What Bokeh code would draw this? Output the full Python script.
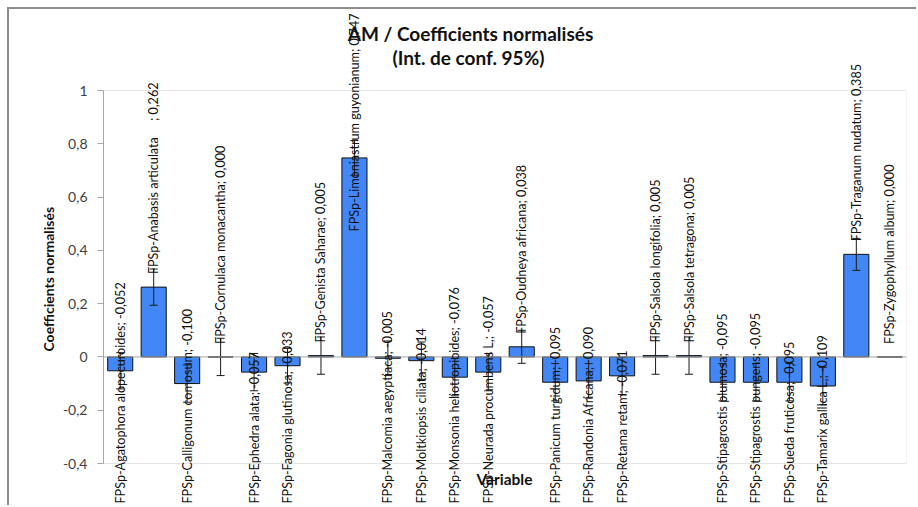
import math
from bokeh.plotting import figure
from bokeh.models import (Range1d, Label, Span, BoxAnnotation, FixedTicker,
                          CustomJSTickFormatter, Title)
from bokeh.embed import file_html
from bokeh.resources import INLINE

# ---------------- data ----------------
species = [
    "FPSp-Agatophora alopecuroides",
    "FPSp-Anabasis articulata\u00a0\u00a0\u00a0\u00a0\u00a0",
    "FPSp-Calligonum comosum",
    "FPSp-Cornulaca monacantha",
    "FPSp-Ephedra alata",
    "FPSp-Fagonia glutinosa",
    "FPSp-Genista Saharae",
    "FPSp-Limoniastrum guyonianum",
    "FPSp-Malcomia aegyptiaca",
    "FPSp-Moltkiopsis ciliata",
    "FPSp-Monsonia heliotropioides",
    "FPSp-Neurada procumbens L.",
    "FPSp-Oudneya africana",
    "FPSp-Panicum turgidum",
    "FPSp-Randonia Africana",
    "FPSp-Retama retam",
    "FPSp-Salsola longifolia",
    "FPSp-Salsola tetragona",
    "FPSp-Stipagrostis plumosa",
    "FPSp-Stipagrostis pungens",
    "FPSp-Sueda fruticosa",
    "FPSp-Tamarix gallica L.",
    "FPSp-Traganum nudatum",
    "FPSp-Zygophyllum album",
]
coefficients = [-0.052, 0.262, -0.100, 0.000, -0.057, -0.033, 0.005, 0.747,
                -0.005, -0.014, -0.076, -0.057, 0.038, -0.095, -0.090, -0.071,
                0.005, 0.005, -0.095, -0.095, -0.095, -0.109, 0.385, 0.000]
ci_lower = [-0.120, 0.194, -0.170, -0.070, -0.127, -0.098, -0.065, 0.682,
            -0.070, -0.084, -0.146, -0.127, -0.024, -0.165, -0.155, -0.141,
            -0.065, -0.065, -0.165, -0.165, -0.165, -0.179, 0.325, float("nan")]
ci_upper = [0.016, 0.330, -0.030, 0.070, 0.013, 0.032, 0.075, 0.812,
            0.060, 0.056, -0.006, 0.013, 0.100, -0.025, -0.025, -0.001,
            0.075, 0.075, -0.025, -0.025, -0.025, -0.039, 0.445, float("nan")]
y_ticks = [-0.4, -0.2, 0.0, 0.2, 0.4, 0.6, 0.8, 1.0]

title_lines = ["AM / Coefficients normalisés", "(Int. de conf. 95%)"]
y_title = "Coefficients normalisés"
x_title = "Variable"

# ---------------- geometry (page pixels) ----------------
CX0, CY0 = 9, 9                      # canvas origin on the page (after css margin+border)
W, H = 918 - CX0, 507 - CY0
FL, FR = 103, 906                    # plot-area left/right on the page
PT, PB = 90, 463                     # plot-area top/bottom (values 1.0 / -0.4)
Y0, Y1 = -0.4, 1.0
N = len(species)
PX_PER_Y = (PB - PT) / (Y1 - Y0)

def x_of(px):
    return (px - FL) * N / (FR - FL)

def y_of(py):
    return Y1 - (py - PT) / PX_PER_Y

p = figure(width=W, height=H, output_backend="svg", toolbar_location=None,
           x_range=Range1d(0, N), y_range=Range1d(y_of(CY0 + H), y_of(CY0)),
           x_axis_location=None,
           min_border_left=FL - CX0, min_border_right=CX0 + W - FR,
           min_border_top=0, min_border_bottom=0,
           styles={"margin-left": "7px", "margin-top": "7px",
                   "border-left": "2px solid #8c8c8c",
                   "border-top": "2px solid #8c8c8c"})
p.xgrid.visible = False
p.ygrid.visible = False
p.outline_line_color = None
p.background_fill_color = "white"
p.border_fill_color = "white"

yax = p.yaxis[0]
yax.bounds = (Y0, Y1)
yax.ticker = FixedTicker(ticks=y_ticks)
yax.formatter = CustomJSTickFormatter(code="""
    const s = (Math.round(tick * 10) / 10).toString();
    return s.replace('.', ',');
""")
yax.axis_line_color = "#a6a6a6"
yax.major_tick_line_color = "#a6a6a6"
yax.major_tick_out = 6
yax.major_tick_in = 0
yax.minor_tick_line_color = None
yax.major_label_standoff = 10
yax.major_label_text_font = "Lato"
yax.major_label_text_font_size = "14px"
yax.major_label_text_color = "#404040"

# y-axis title (left side panel)
p.add_layout(Title(text=y_title, align="left", offset=(CY0 + H) - (276 + 75),
                   text_font="Lato", text_font_style="bold", text_font_size="14px",
                   text_color="#111111", standoff=6), "left")

# plot-area frame and zero line
p.add_layout(BoxAnnotation(left=0, right=N, bottom=Y0, top=Y1, fill_alpha=0,
                           line_color="#a6a6a6", line_width=1))
p.add_layout(Span(location=0, dimension="width", line_color="#a6a6a6", line_width=1))

xs = [i + 0.5 for i in range(N)]
p.vbar(x=xs, top=coefficients, bottom=0, width=0.75,
       fill_color="#4287f5", line_color="#111111", line_width=1)

# error bars
cap = 0.12
p.segment(x0=xs, x1=xs, y0=ci_lower, y1=ci_upper, line_color="#1a1a1a", line_width=1)
p.segment(x0=[x - cap for x in xs], x1=[x + cap for x in xs], y0=ci_lower, y1=ci_lower,
          line_color="#1a1a1a", line_width=1)
p.segment(x0=[x - cap for x in xs], x1=[x + cap for x in xs], y0=ci_upper, y1=ci_upper,
          line_color="#1a1a1a", line_width=1)

# data labels ("name; value"), Excel-like outside end, clamped to the chart area
LBL_FONT = "Lato"
LBL_SIZE = "12.6px"
CHAR_W = 6.1
for x, name, v in zip(xs, species, coefficients):
    txt = f"{name}; {v:.3f}".replace(".", ",")
    if v < 0:
        y, align = y_of(503), "left"
    else:
        bottom_px = PT + (Y1 - v) * PX_PER_Y - 13
        if bottom_px - len(txt) * CHAR_W < 12:
            y, align = y_of(13), "right"
        else:
            y, align = v + 13 / PX_PER_Y, "left"
    p.add_layout(Label(x=x, y=y, text=txt, angle=math.pi / 2, text_align=align,
                       text_baseline="middle", text_font=LBL_FONT,
                       text_font_size=LBL_SIZE, text_color="#111111"))

# chart title and x title
p.add_layout(Label(x=x_of(470), y=y_of(33), text=title_lines[0], text_align="center",
                   text_baseline="middle", text_font="Lato", text_font_style="bold",
                   text_font_size="19px", text_color="#111111"))
p.add_layout(Label(x=x_of(468), y=y_of(57), text=title_lines[1], text_align="center",
                   text_baseline="middle", text_font="Lato", text_font_style="bold",
                   text_font_size="19px", text_color="#111111"))
p.add_layout(Label(x=x_of(504), y=y_of(478), text=x_title, text_align="center",
                   text_baseline="middle", text_font="Lato", text_font_style="bold",
                   text_font_size="15.5px", text_color="#111111"))

open("out.html", "w").write(file_html(p, INLINE))
